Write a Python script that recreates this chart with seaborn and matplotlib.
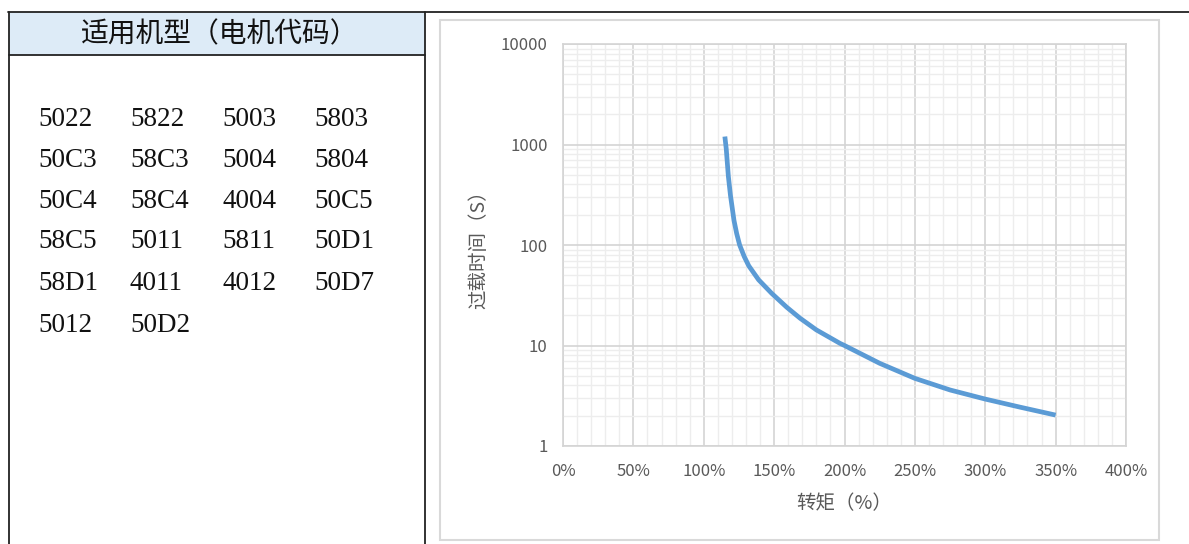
import matplotlib
matplotlib.use("Agg")
import matplotlib.pyplot as plt
import seaborn as sns
import pandas as pd
from matplotlib.lines import Line2D
from matplotlib.patches import Rectangle
from matplotlib.ticker import FixedLocator, FuncFormatter, NullFormatter

# ---------------- data ----------------
header_text = "适用机型（电机代码）"
motor_codes = [
    ["5022", "5822", "5003", "5803"],
    ["50C3", "58C3", "5004", "5804"],
    ["50C4", "58C4", "4004", "50C5"],
    ["58C5", "5011", "5811", "50D1"],
    ["58D1", "4011", "4012", "50D7"],
    ["5012", "50D2"],
]
torque_pct = [115, 116, 116.8, 117.5, 119, 121.5, 123.4, 125.5, 128.8, 132,
              139, 148.3, 159, 168.4, 180, 196.8, 200, 225, 250, 275, 300, 325, 350]
overload_s = [1200, 900, 640, 480, 310, 175, 130, 100, 76.5, 62,
              45, 33, 24, 18.7, 14.3, 10.5, 10, 6.65, 4.71, 3.61, 2.93, 2.43, 2.03]
x_ticks = [0, 50, 100, 150, 200, 250, 300, 350, 400]
y_ticks = [1, 10, 100, 1000, 10000]
x_label = "转矩（%）"
y_label = "过载时间（S）"

# ---------------- style ----------------
sns.set_theme(style="white")
plt.rcParams["font.family"] = ["Noto Sans CJK SC", "DejaVu Sans"]

W, H = 1189, 544
fig = plt.figure(figsize=(W / 100, H / 100), dpi=100)

def fx(px):
    return px / W

def fy(py):
    return 1 - py / H

# ---------------- table on the left ----------------
fig.add_artist(Rectangle((fx(9), fy(55)), fx(425) - fx(9), fy(12) - fy(55),
                         transform=fig.transFigure, facecolor="#DDEBF7",
                         edgecolor="none", zorder=0))
line_kw = dict(transform=fig.transFigure, color="#222222", linewidth=1.3)
fig.add_artist(Line2D([fx(8), 1.0], [fy(12), fy(12)], **line_kw))
fig.add_artist(Line2D([fx(9), fx(9)], [fy(12), 0.0], **line_kw))
fig.add_artist(Line2D([fx(425), fx(425)], [fy(12), 0.0], **line_kw))
fig.add_artist(Line2D([fx(9), fx(425)], [fy(55), fy(55)], **line_kw))

fig.text(fx(220), fy(34), header_text, ha="center", va="center",
         fontsize=20, color="#111111", family=["Noto Sans CJK SC"])

col_x = [38, 130, 222, 314]
row_y = [119, 160, 201, 242, 283, 325]
for r, row in enumerate(motor_codes):
    for c, code in enumerate(row):
        fig.text(fx(col_x[c]), fy(row_y[r]), code, ha="left", va="center",
                 fontsize=19.5, color="#111111", family=["Liberation Serif"])

# ---------------- chart frame ----------------
fig.add_artist(Rectangle((fx(440), fy(540)), fx(1159) - fx(440), fy(20) - fy(540),
                         transform=fig.transFigure, facecolor="white",
                         edgecolor="#D9D9D9", linewidth=1.5, zorder=0))

ax = fig.add_axes([fx(563), fy(446), fx(1126) - fx(563), fy(44) - fy(446)])
df = pd.DataFrame({"torque": torque_pct, "time": overload_s})
sns.lineplot(data=df, x="torque", y="time", ax=ax, color="#5B9BD5",
             linewidth=3.4, solid_capstyle="butt", solid_joinstyle="round",
             zorder=5)

ax.set_yscale("log")
ax.set_xlim(0, 400)
ax.set_ylim(1, 10000)

ax.xaxis.set_major_locator(FixedLocator(x_ticks))
ax.xaxis.set_minor_locator(FixedLocator([v for v in range(0, 401, 10) if v % 50]))
ax.xaxis.set_major_formatter(FuncFormatter(lambda v, p: f"{int(v)}%"))

ax.yaxis.set_major_locator(FixedLocator(y_ticks))
minor_y = [m * 10 ** e for e in range(0, 4) for m in range(2, 10)]
ax.yaxis.set_minor_locator(FixedLocator(minor_y))
ax.yaxis.set_major_formatter(FuncFormatter(lambda v, p: f"{int(v)}"))
ax.yaxis.set_minor_formatter(NullFormatter())

ax.grid(True, which="major", color="#D4D4D4", linewidth=1.2)
ax.grid(True, which="minor", color="#EDEDED", linewidth=1.0)
ax.set_axisbelow(True)
for s in ax.spines.values():
    s.set_color("#D4D4D4")
    s.set_linewidth(1.2)

ax.tick_params(axis="both", which="both", length=0, colors="#595959",
               labelsize=12)
ax.tick_params(axis="x", pad=12)
ax.tick_params(axis="y", pad=11)

ax.set_xlabel(x_label, fontsize=14, color="#595959", labelpad=10)
ax.set_ylabel(y_label, fontsize=14, color="#595959", labelpad=8)

fig.savefig("out.png", dpi=100)
